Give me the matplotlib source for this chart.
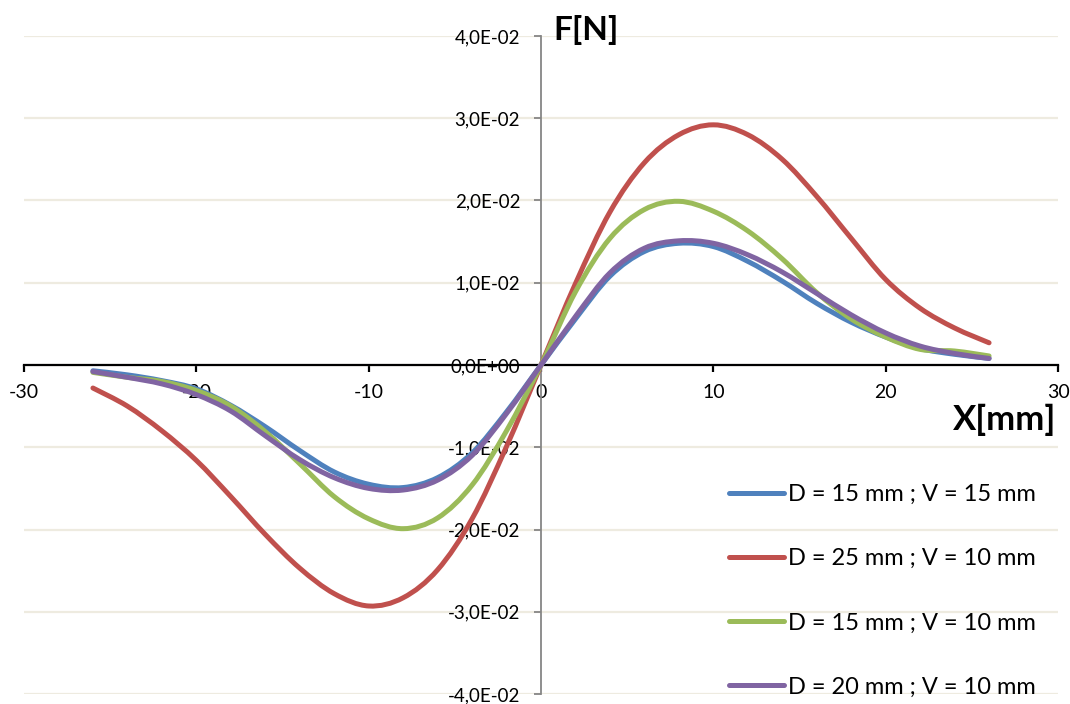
import numpy as np
import matplotlib
matplotlib.use("Agg")
import matplotlib.pyplot as plt
from matplotlib.path import Path
from matplotlib.patches import PathPatch
from matplotlib.lines import Line2D
from matplotlib.ticker import FuncFormatter, MultipleLocator

plt.rcParams['font.family'] = ['Lato', 'DejaVu Sans']
plt.rcParams['axes.unicode_minus'] = False

# displacement [mm]
x_mm = [-26, -24, -22, -20, -18, -16, -14, -12, -10, -8, -6, -4, -2,
        0, 2, 4, 6, 8, 10, 12, 14, 16, 18, 20, 22, 24, 26]

# force values in 1e-3 N
f_d15_v15 = [-0.7, -1.2, -1.9, -2.9, -4.9, -7.5, -10.4, -13.0, -14.5, -14.9, -13.7, -10.7, -5.7,
             0, 5.6, 10.8, 13.8, 14.8, 14.4, 12.6, 10.2, 7.5, 5.2, 3.4, 2.0, 1.3, 0.8]
f_d25_v10 = [-2.8, -5.0, -8.0, -11.6, -16.0, -20.6, -24.7, -27.8, -29.3, -28.3, -24.9, -18.7, -9.9,
             0, 9.9, 18.6, 24.6, 28.0, 29.2, 28.0, 25.0, 20.5, 15.4, 10.4, 6.9, 4.5, 2.7]
f_d15_v10 = [-0.9, -1.5, -2.0, -3.1, -5.0, -8.1, -12.0, -16.0, -18.7, -19.9, -18.6, -14.6, -8.0,
             0, 8.9, 15.4, 18.9, 19.9, 18.7, 16.3, 12.9, 8.8, 5.6, 3.4, 1.9, 1.7, 1.1]
f_d20_v10 = [-0.8, -1.5, -2.3, -3.6, -5.6, -8.6, -11.5, -13.7, -15.0, -15.2, -14.0, -11.0, -5.9,
             0, 5.9, 11.2, 14.2, 15.1, 14.8, 13.4, 11.3, 8.7, 6.1, 3.9, 2.3, 1.4, 0.8]

labels = ["D = 15 mm ; V = 15 mm", "D = 25 mm ; V = 10 mm",
          "D = 15 mm ; V = 10 mm", "D = 20 mm ; V = 10 mm"]
colors = ["#4F81BD", "#C0504D", "#9BBB59", "#8064A2"]
series = [f_d15_v15, f_d25_v10, f_d15_v10, f_d20_v10]


# smoothed line through the points (cubic bezier segments, like the spreadsheet "smooth line")
def smooth_path(xs, ys):
    pts = np.column_stack([xs, ys])
    ext = np.vstack([pts[0], pts, pts[-1]])
    verts = [pts[0]]
    codes = [Path.MOVETO]
    for i in range(len(pts) - 1):
        p0, p1, p2, p3 = ext[i], ext[i + 1], ext[i + 2], ext[i + 3]
        verts += [p1 + (p2 - p0) / 6, p2 - (p3 - p1) / 6, p2]
        codes += [Path.CURVE4] * 3
    return Path(verts, codes)


fig = plt.figure(figsize=(10.70, 7.04), dpi=100)
ax = fig.add_axes([24 / 1070, 10 / 704, 1034 / 1070, 658 / 704])

x = np.array(x_mm, dtype=float)
handles = []
for vals, lab, col in zip(series, labels, colors):
    y = np.array(vals) * 1e-3
    patch = PathPatch(smooth_path(x, y), facecolor='none', edgecolor=col, lw=3.6,
                      capstyle='round', joinstyle='round', zorder=3)
    ax.add_patch(patch)
    handles.append(Line2D([], [], color=col, lw=3.6, solid_capstyle='round', label=lab))

ax.set_xlim(-30, 30)
ax.set_ylim(-0.04, 0.04)

# axes crossing at the origin, like the spreadsheet chart
ax.spines['left'].set_position(('data', 0))
ax.spines['bottom'].set_position(('data', 0))
ax.spines['top'].set_visible(False)
ax.spines['right'].set_visible(False)
ax.spines['left'].set_color('#868686')
ax.spines['left'].set_linewidth(1.3)
ax.spines['bottom'].set_color('black')
ax.spines['bottom'].set_linewidth(1.6)
ax.spines['bottom'].set_zorder(2)

ax.xaxis.set_major_locator(MultipleLocator(10))
ax.yaxis.set_major_locator(MultipleLocator(0.01))
ax.xaxis.set_major_formatter(FuncFormatter(lambda v, p: "%d" % round(v)))
ax.yaxis.set_major_formatter(FuncFormatter(lambda v, p: ("%.1E" % v).replace('.', ',')))

ax.tick_params(axis='x', direction='out', length=5, width=1.6, color='black',
               labelsize=14, pad=9)
ax.tick_params(axis='y', direction='out', length=5, width=1.3, color='#868686',
               labelsize=13.5, pad=10)

ax.grid(axis='y', color='#EEEBE0', lw=1.6, zorder=0)
ax.set_axisbelow(True)

fig.text(553 / 1070, 1 - 30 / 704, "F[N]", fontsize=24, fontweight='bold', va='center', ha='left')
fig.text(1056 / 1070, 1 - 420 / 704, "X[mm]", fontsize=25, fontweight='bold', va='center', ha='right')

leg = ax.legend(handles=handles, loc='upper left', bbox_to_anchor=(729 / 1070, 1 - 484 / 704),
                bbox_transform=fig.transFigure, frameon=False, fontsize=17,
                handlelength=2.35, handletextpad=0.15, labelspacing=1.83,
                borderaxespad=0, borderpad=0)

fig.savefig("out.png", dpi=100)
